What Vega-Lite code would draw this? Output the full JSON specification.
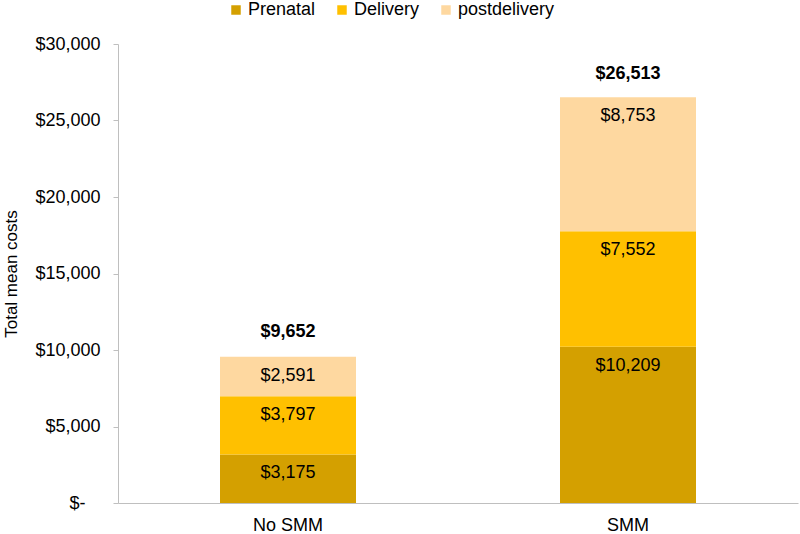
{
  "$schema": "https://vega.github.io/schema/vega-lite/v6.json",
  "width": 680,
  "height": 459,
  "autosize": {"type": "none"},
  "padding": {"left": 118, "top": 44, "right": 2, "bottom": 31},
  "background": "white",
  "config": {
    "view": {"stroke": null},
    "font": "Liberation Sans",
    "axis": {"grid": false, "labelFont": "Liberation Sans", "titleFont": "Liberation Sans", "labelColor": "#000000", "titleColor": "#000000", "domainColor": "#BFBFBF", "tickColor": "#BFBFBF"}
  },
  "datasets": {
    "parts": [
      {"group": "No SMM", "part": "Prenatal", "cost": 3175, "order": 1},
      {"group": "No SMM", "part": "Delivery", "cost": 3797, "order": 2},
      {"group": "No SMM", "part": "postdelivery", "cost": 2591, "order": 3},
      {"group": "SMM", "part": "Prenatal", "cost": 10209, "order": 1},
      {"group": "SMM", "part": "Delivery", "cost": 7552, "order": 2},
      {"group": "SMM", "part": "postdelivery", "cost": 8753, "order": 3}
    ],
    "totals": [
      {"group": "No SMM", "total": 9652},
      {"group": "SMM", "total": 26513}
    ]
  },
  "layer": [
    {
      "data": {"name": "parts"},
      "mark": {"type": "bar", "size": 136},
      "encoding": {
        "x": {"field": "group", "type": "nominal", "sort": ["No SMM", "SMM"],
              "scale": {"paddingInner": 0, "paddingOuter": 0},
              "axis": {"title": null, "ticks": false, "labelAngle": 0, "labelFontSize": 18, "labelPadding": 13, "domainWidth": 1}},
        "y": {"field": "cost", "type": "quantitative", "stack": "zero",
              "scale": {"domain": [0, 30000], "nice": false},
              "axis": {"title": "Total mean costs", "titleFontSize": 17, "titleFontWeight": "normal", "titlePadding": 14,
                       "values": [0, 5000, 10000, 15000, 20000, 25000, 30000],
                       "labelExpr": "datum.value == 0 ? '$-\u2007\u2008\u200b' : '$' + format(datum.value, ',')",
                       "labelFontSize": 18, "tickSize": 5, "labelPadding": 13}},
        "color": {"field": "part", "type": "nominal",
                  "scale": {"domain": ["Prenatal", "Delivery", "postdelivery"], "range": ["#D4A000", "#FFC000", "#FED8A0"]},
                  "legend": {"title": null, "orient": "none", "direction": "horizontal", "legendX": 109, "legendY": -43,
                             "symbolType": "square", "symbolSize": 90, "symbolStrokeWidth": 0, "labelFontSize": 18,
                             "labelOffset": 3, "columnPadding": 17, "labelColor": "#000000"}},
        "order": {"field": "order", "type": "quantitative"}
      }
    },
    {
      "data": {"name": "parts"},
      "transform": [
        {"stack": "cost", "groupby": ["group"], "sort": [{"field": "order", "order": "ascending"}], "as": ["c0", "c1"]}
      ],
      "mark": {"type": "text", "fontSize": 18, "baseline": "middle", "align": "center", "dy": 19, "color": "#000000"},
      "encoding": {
        "x": {"field": "group", "type": "nominal", "sort": ["No SMM", "SMM"]},
        "y": {"field": "c1", "type": "quantitative"},
        "text": {"field": "cost", "type": "quantitative", "format": "$,"}
      }
    },
    {
      "data": {"name": "totals"},
      "mark": {"type": "text", "fontSize": 18, "fontWeight": "bold", "baseline": "middle", "align": "center", "dy": -23, "color": "#000000"},
      "encoding": {
        "x": {"field": "group", "type": "nominal", "sort": ["No SMM", "SMM"]},
        "y": {"field": "total", "type": "quantitative"},
        "text": {"field": "total", "type": "quantitative", "format": "$,"}
      }
    }
  ]
}
